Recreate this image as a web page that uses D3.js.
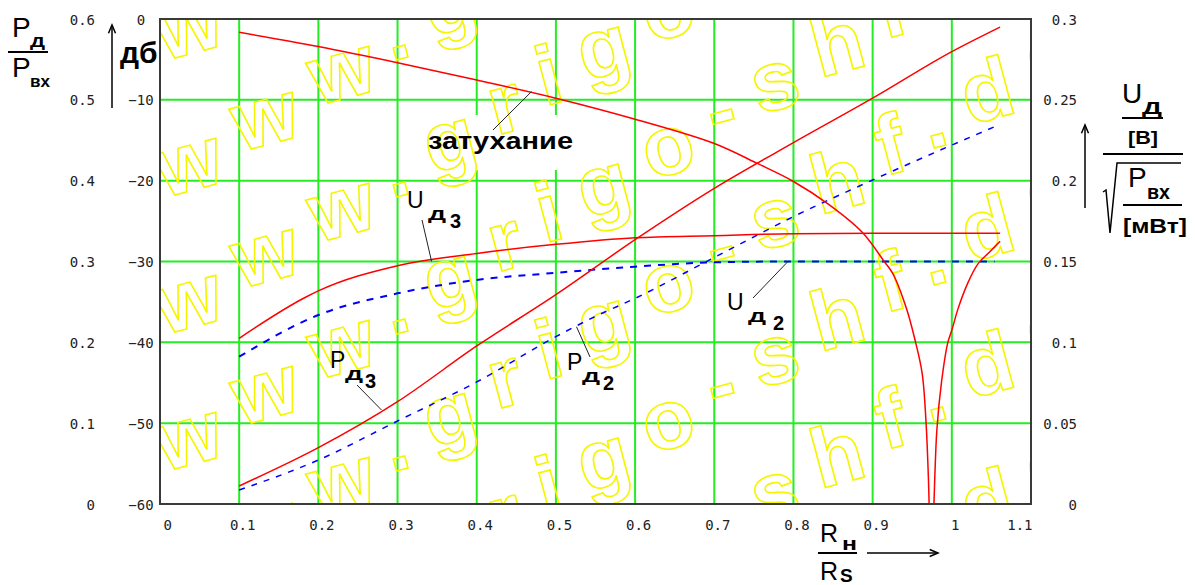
<!DOCTYPE html>
<html>
<head>
<meta charset="utf-8">
<script src="https://cdn.jsdelivr.net/npm/d3@7"></script>
<style>
    body { margin: 0; background: #ffffff; }
    svg { display: block; }
</style>
</head>
<body>
<div class="chart"></div>
<script>
// ---- данные ----
const xTicks = [0, 0.1, 0.2, 0.3, 0.4, 0.5, 0.6, 0.7, 0.8, 0.9, 1.0, 1.1];
const dbTicks = [0, -10, -20, -30, -40, -50, -60];
const pTicks = [0.6, 0.5, 0.4, 0.3, 0.2, 0.1, 0];
const uTicks = [0.3, 0.25, 0.2, 0.15, 0.1, 0.05, 0];

// затухание, дБ
const attX = [0.1, 0.2, 0.3, 0.4, 0.5, 0.6, 0.7, 0.755, 0.8, 0.844, 0.886, 0.9154, 0.9255, 0.943, 0.953, 0.9625, 0.9675, 0.9705, 0.974,
    0.981, 0.987, 0.995, 1.0, 1.008, 1.02, 1.033, 1.048, 1.061];
const attDb = [-1.65, -3.4, -5.4, -7.55, -9.8, -12.4, -15.4, -17.9, -20.1, -22.9, -26.3, -30.1, -31.5, -35.9, -39.5, -43.8, -50, -57, -68,
    -51, -44.9, -40, -38.5, -35.8, -32.7, -30.3, -28.8, -27.5];

// P_Д3 / P_вх
const p3X = [0.1, 0.2, 0.3, 0.4, 0.5, 0.6, 0.7, 0.8, 0.9, 1.0, 1.061];
const p3 = [0.0223, 0.0697, 0.1266, 0.1955, 0.259, 0.327, 0.3905, 0.447, 0.502, 0.5596, 0.590];

// P_Д2 / P_вх
const p2X = [0.1, 0.2, 0.3, 0.4, 0.5, 0.549, 0.6, 0.7, 0.8, 0.9, 1.0, 1.061];
const p2 = [0.0173, 0.0544, 0.1027, 0.151, 0.207, 0.2317, 0.2544, 0.305, 0.3555, 0.4008, 0.444, 0.4697];

// U_Д3
const u3X = [0.1, 0.185, 0.2, 0.3, 0.4, 0.5, 0.6, 0.7, 0.8, 0.9, 1.0, 1.061];
const u3 = [0.1025, 0.1282, 0.1318, 0.1474, 0.155, 0.1606, 0.1647, 0.166, 0.1672, 0.1674, 0.1674, 0.1674];

// U_Д2
const u2X = [0.1, 0.2, 0.3, 0.4, 0.5, 0.6, 0.7, 0.8, 0.9, 1.0, 1.054];
const u2 = [0.0911, 0.1169, 0.1303, 0.1386, 0.143, 0.1468, 0.1495, 0.15, 0.15, 0.15, 0.15];

const watermarkText = 'www.grigo-shf.de';

// ---- размеры ----
const width = 1195, height = 585;
const plot = {left: 160, right: 1031, top: 19, bottom: 504};

const svg = d3.select('.chart')
    .append('svg')
    .attr('width', width)
    .attr('height', height)
    .style('font-family', '"Liberation Sans", Arial, sans-serif');

const x = d3.scaleLinear().domain([0, 1.1]).range([plot.left, plot.right]);
const yDb = d3.scaleLinear().domain([-60, 0]).range([plot.bottom, plot.top]);
const yP = d3.scaleLinear().domain([0, 0.6]).range([plot.bottom, plot.top]);
const yU = d3.scaleLinear().domain([0, 0.3]).range([plot.bottom, plot.top]);

svg.append('defs').append('clipPath').attr('id', 'plotClip')
    .append('rect')
    .attr('x', plot.left).attr('y', plot.top)
    .attr('width', plot.right - plot.left).attr('height', plot.bottom - plot.top);

// сетка
const grid = svg.append('g').attr('stroke', '#22ee22').attr('stroke-width', 2);
grid.selectAll('.gv')
    .data(xTicks.filter(d => d > 0 && d < 1.05))
    .enter().append('line')
    .attr('x1', d => x(d)).attr('x2', d => x(d))
    .attr('y1', plot.top).attr('y2', plot.bottom);
grid.selectAll('.gh')
    .data(dbTicks.filter(d => d > -60 && d < 0))
    .enter().append('line')
    .attr('x1', plot.left).attr('x2', plot.right)
    .attr('y1', d => yDb(d)).attr('y2', d => yDb(d));

// белая подложка под надписью "затухание"
svg.append('rect')
    .attr('x', 420).attr('y', 115).attr('width', 160).attr('height', 55)
    .attr('fill', '#ffffff');

// водяной знак (обрезан по полю графика)
const wm = svg.append('g').attr('clip-path', 'url(#plotClip)');
d3.range(-4, 4).forEach(k => {
    wm.append('text')
        .attr('transform', `translate(164,${609 + 137 * k}) rotate(-31)`)
        .attr('rotate', 16)
        .attr('letter-spacing', 24)
        .attr('font-size', 84)
        .attr('font-weight', 'bold')
        .attr('fill', 'none')
        .attr('stroke', '#f5f500')
        .attr('stroke-width', 1.6)
        .text(watermarkText);
});

// кривые
const zip = (xs, ys) => xs.map((v, i) => [v, ys[i]]);
const curves = svg.append('g').attr('clip-path', 'url(#plotClip)').attr('fill', 'none');

function drawCurve(data, yScale, color, dash, w, curve) {
    curves.append('path')
        .datum(data)
        .attr('d', d3.line().x(d => x(d[0])).y(d => yScale(d[1])).curve(curve || d3.curveMonotoneX))
        .attr('stroke', color)
        .attr('stroke-width', w)
        .attr('stroke-dasharray', dash);
}

drawCurve(zip(u2X, u2), yU, '#0000ff', '7,7', 2);
drawCurve(zip(p2X, p2), yP, '#0000ff', '6,7', 1.5);
drawCurve(zip(attX, attDb), yDb, '#ff0000', null, 1.5, d3.curveCatmullRom.alpha(0.5));
drawCurve(zip(p3X, p3), yP, '#ff0000', null, 1.5);
drawCurve(zip(u3X, u3), yU, '#ff0000', null, 1.5);

// выноски
const leaders = svg.append('g').attr('stroke', '#222').attr('stroke-width', 1);
const leader = (x1, y1, x2, y2) => leaders.append('line')
    .attr('x1', x1).attr('y1', y1).attr('x2', x2).attr('y2', y2);
leader(493, 130, x(0.469), yDb(-9.0));
leader(422, 220, x(0.343), yU(0.15));
leader(357, 385, x(0.2797), yP(0.1163));
leader(590, 357, x(0.526), yP(0.2193));
leader(753, 298, x(0.793), yU(0.15));

// подписи кривых
const labels = svg.append('g').attr('fill', '#000');

function txt(g, t, px, py, size, bold, len) {
    let el = g.append('text')
        .attr('x', px).attr('y', py)
        .attr('font-size', size)
        .attr('font-weight', bold ? 'bold' : 'normal')
        .text(t);
    if (len) el.attr('textLength', len).attr('lengthAdjust', 'spacingAndGlyphs');
    return el;
}

txt(labels, 'затухание', 428, 149, 23, true, 145);

function curveLabel(main, idx, px, py, dxSub, dxIdx) {
    txt(labels, main, px, py, 23, false);
    txt(labels, 'Д', px + dxSub, py + 12, 15, true, 18);
    txt(labels, idx, px + dxIdx, py + 20, 20, true);
}
curveLabel('U', '3', 407, 208, 21, 43);
curveLabel('P', '3', 330, 368, 15, 35);
curveLabel('P', '2', 567, 370, 15, 36);
curveLabel('U', '2', 727, 310, 21, 46);

// оси
const tickFont = '"DejaVu Sans Mono", monospace';

const axisB = svg.append('g')
    .attr('transform', `translate(0,${plot.bottom})`)
    .call(d3.axisBottom(x).tickValues(xTicks).tickSize(0).tickFormat(d => d3.format('~g')(d)));
axisB.select('.domain').remove();
axisB.selectAll('text')
    .attr('y', 26).attr('dy', 0)
    .attr('x', (d, i) => i === 0 ? 3 : (i === xTicks.length - 1 ? 1 : 3))
    .attr('text-anchor', (d, i) => i === 0 ? 'start' : (i === xTicks.length - 1 ? 'end' : 'middle'))
    .style('font-family', tickFont).style('font-size', '14px').attr('fill', '#222');

const axisDb = svg.append('g')
    .attr('transform', `translate(${plot.left},0)`)
    .call(d3.axisLeft(yDb).tickValues(dbTicks).tickSize(0).tickFormat(d => d3.format('d')(d)));
axisDb.select('.domain').remove();
axisDb.selectAll('text')
    .attr('x', -19).attr('dy', 0).attr('y', 5)
    .attr('text-anchor', 'middle')
    .style('font-family', tickFont).style('font-size', '14px').attr('fill', '#222');

const axisP = svg.append('g')
    .attr('transform', `translate(${plot.left},0)`)
    .call(d3.axisLeft(yP).tickValues(pTicks).tickSize(0).tickFormat(d => d3.format('~g')(d)));
axisP.select('.domain').remove();
axisP.selectAll('text')
    .attr('x', -65).attr('dy', 0).attr('y', 5)
    .attr('text-anchor', 'end')
    .style('font-family', tickFont).style('font-size', '14px').attr('fill', '#222');

const axisU = svg.append('g')
    .attr('transform', `translate(${plot.right},0)`)
    .call(d3.axisRight(yU).tickValues(uTicks).tickSize(0).tickFormat(d => d3.format('~g')(d)));
axisU.select('.domain').remove();
axisU.selectAll('text')
    .attr('x', 46).attr('dy', 0).attr('y', 5)
    .attr('text-anchor', 'end')
    .style('font-family', tickFont).style('font-size', '14px').attr('fill', '#222');

// рамка
svg.append('rect')
    .attr('x', plot.left).attr('y', plot.top)
    .attr('width', plot.right - plot.left).attr('height', plot.bottom - plot.top)
    .attr('fill', 'none').attr('stroke', '#3a3a3a').attr('stroke-width', 2);

// подписи осей
const titles = svg.append('g').attr('fill', '#000');
const strokes = svg.append('g').attr('stroke', '#000').attr('fill', 'none');

function arrow(x1, y1, x2, y2) {
    strokes.append('line').attr('x1', x1).attr('y1', y1).attr('x2', x2).attr('y2', y2).attr('stroke-width', 1.5);
    const a = Math.atan2(y2 - y1, x2 - x1), len = 9, sp = 0.4;
    strokes.append('path')
        .attr('d', `M${x2 - len * Math.cos(a - sp)},${y2 - len * Math.sin(a - sp)} L${x2},${y2} L${x2 - len * Math.cos(a + sp)},${y2 - len * Math.sin(a + sp)}`)
        .attr('stroke-width', 1.5);
}
function bar(x1, x2, y) {
    strokes.append('line').attr('x1', x1).attr('x2', x2).attr('y1', y).attr('y2', y).attr('stroke-width', 2);
}

// слева: P_Д / P_вх, дб
txt(titles, 'P', 12, 37, 28, false);
txt(titles, 'Д', 30, 47, 15, true, 15);
bar(8, 48, 52);
txt(titles, 'P', 12, 77, 28, false);
txt(titles, 'вх', 30, 87, 17, true, 20);
arrow(112, 108, 112, 25);
txt(titles, 'дб', 120, 63, 30, true);

// справа: U_Д/[B] / sqrt(P_вх/[мВт])
txt(titles, 'U', 1122, 103, 28, false);
txt(titles, 'Д', 1142, 114, 17, true, 20);
bar(1122, 1163, 118);
txt(titles, '[B]', 1128, 144, 19, true, 30);
bar(1103, 1183, 154);
strokes.append('path')
    .attr('d', 'M1103,192 L1106,190 L1110,233 L1117,163 L1181,163')
    .attr('stroke-width', 1.5);
txt(titles, 'P', 1128, 187, 28, false);
txt(titles, 'вх', 1147, 199, 21, true, 23);
bar(1123, 1182, 205);
txt(titles, '[мВт]', 1123, 233, 20, true, 64);
arrow(1085, 208, 1085, 125);

// снизу: R_н / R_S
txt(titles, 'R', 820, 542, 25, false);
txt(titles, 'н', 842, 550, 19, true, 15);
bar(818, 857, 553);
txt(titles, 'R', 820, 580, 25, false);
txt(titles, 'S', 840, 582, 19, true);
arrow(867, 553, 938, 553);
</script>
</body>
</html>
